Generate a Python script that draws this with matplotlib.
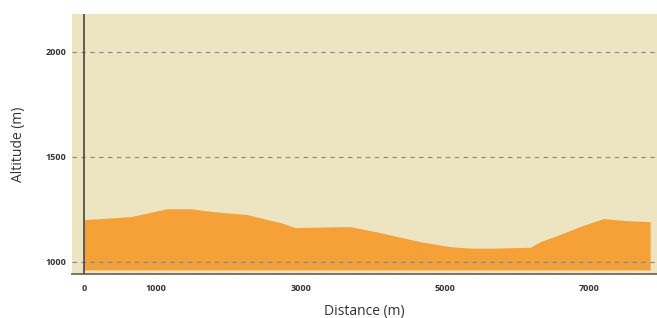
import matplotlib
matplotlib.use("Agg")
import matplotlib.pyplot as plt

# elevation profile
distance = [0, 640, 780, 1150, 1470, 1790, 2260, 2540, 2720, 2920,
            3680, 4100, 4650, 5070, 5350, 5670, 6180, 6320, 6590, 6870,
            7190, 7520, 7840]
altitude = [1200, 1214, 1224, 1252, 1252, 1238, 1224, 1200, 1186, 1162,
            1167, 1138, 1095, 1071, 1064, 1064, 1068, 1095, 1129, 1167,
            1205, 1195, 1190]

x_ticks = [0, 1000, 3000, 5000, 7000]
y_ticks = [1000, 1500, 2000]

plt.rcParams['font.family'] = ['Open Sans', 'DejaVu Sans']

fig = plt.figure(figsize=(6.57, 3.18), dpi=100)
ax = fig.add_axes([0.1096, 0.138, 0.8904, 0.818])
ax.set_facecolor('#ede4c2')

ax.fill_between(distance, altitude, 960, color='#f5a137', lw=0, zorder=2)

ax.set_xlim(-166, 7935)
ax.set_ylim(940, 2181)
ax.set_xticks(x_ticks)
ax.set_yticks(y_ticks)
ax.tick_params(length=0, labelsize=6.5, colors='#333333')
ax.tick_params(axis='x', pad=7)
ax.tick_params(axis='y', pad=4)
for lbl in ax.get_xticklabels() + ax.get_yticklabels():
    lbl.set_fontweight('bold')

ax.yaxis.grid(True, linestyle=(0, (4, 4)), color='#8a8578', lw=0.8, zorder=3)
ax.set_axisbelow(False)

ax.axvline(0, color='#4a4640', lw=1.2, zorder=4)
for side in ['top', 'right', 'left']:
    ax.spines[side].set_visible(False)
ax.spines['bottom'].set_color('#6e6a62')
ax.spines['bottom'].set_linewidth(1.3)

ax.set_xlabel("Distance (m)", fontsize=10, color='#333333', labelpad=8)
ax.set_ylabel("Altitude (m)", fontsize=10, color='#333333', labelpad=14)

plt.savefig('out.png', dpi=100)
plt.close()
